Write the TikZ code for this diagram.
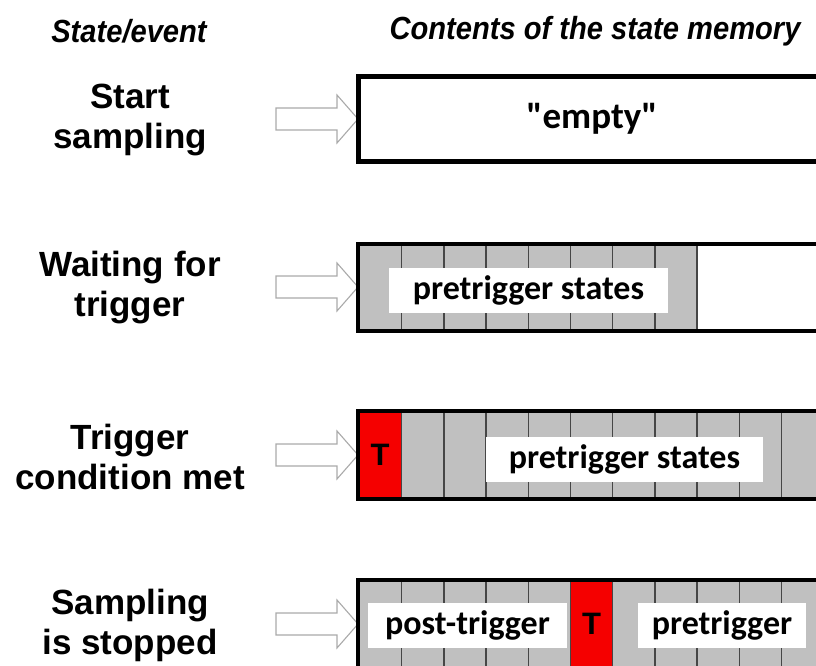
\documentclass[tikz,border=0pt]{standalone}
\usepackage{fontspec}
\setmainfont{Liberation Sans}
\newfontfamily\cellfont{Carlito}
\usetikzlibrary{calc}

\definecolor{cellgray}{RGB}{192,192,192}
\definecolor{trigred}{RGB}{245,0,0}
\definecolor{arrowgray}{RGB}{170,170,170}
\definecolor{celledge}{RGB}{70,70,70}

\begin{document}
\begin{tikzpicture}[x=1pt,y=-1pt,
  evtext/.style={font=\fontsize{35}{40}\selectfont\bfseries, align=center},
  header/.style={font=\fontsize{32}{36}\selectfont\bfseries\itshape},
  memlabel/.style={fill=white, font=\cellfont\fontsize{34}{38}\selectfont\bfseries,
    inner sep=0pt, minimum height=45pt},
  trig/.style={font=\fontsize{31}{34}\selectfont\bfseries},
  frame/.style={line width=4pt, draw=black},
  cellline/.style={draw=celledge, line width=1.3pt},
  blockarrow/.style={draw=arrowgray, line width=1.1pt, fill=white, line join=miter}
]
\useasboundingbox (0,0) rectangle (816,666);
\clip (0,0) rectangle (816,666);

% column headers (slightly condensed)
\node[header] (h1) at (129,31) {\scalebox{0.91}[1]{State/event}};
\node[header] (h2) at (595,31) {\scalebox{0.91}[1]{Contents of the state memory}};

% event texts
\node[evtext] (e1) at (130,120) {Start\\sampling};
\node[evtext] (e2) at (130,288) {Waiting for\\trigger};
\node[evtext] (e3) at (130,457) {Trigger\\condition met};
\node[evtext] (e4) at (130,625) {Sampling\\is stopped};

% hollow block arrows pointing at the memory rows
\foreach \yc in {119,287,455,624}{
  \draw[blockarrow] (276,\yc-11) -- (337,\yc-11) -- (337,\yc-24) -- (358,\yc)
    -- (337,\yc+24) -- (337,\yc+11) -- (276,\yc+11) -- cycle;
}

% ---- row 1: empty memory
\fill[white] (358,77) rectangle (830,161);
\node[font=\cellfont\fontsize{37}{40}\selectfont\bfseries] (m1) at (592,119) {"empty"};
\draw[frame, line width=5pt] (840,77) -- (358,77) -- (358,161) -- (840,161);

% ---- row 2: pretrigger states filling up
\fill[cellgray] (358,244) rectangle (697.1,331);
\foreach \i in {1,...,8}
  \draw[cellline] (359.5+42.2*\i,244) -- (359.5+42.2*\i,331);
\node[memlabel, minimum width=279pt] (m2) at (528.5,290) {pretrigger states};
\draw[frame] (840,244) -- (358,244) -- (358,331) -- (840,331);

% ---- row 3: trigger condition met
\fill[cellgray] (358,411) rectangle (830,499);
\fill[trigred] (358,411) rectangle (401.7,499);
\foreach \i in {1,...,10}
  \draw[cellline] (359.5+42.2*\i,411) -- (359.5+42.2*\i,499);
\node[trig] (t3) at (380,455) {T};
\node[memlabel, minimum width=277pt] (m3) at (624.5,459) {pretrigger states};
\draw[frame] (840,411) -- (358,411) -- (358,499) -- (840,499);

% ---- row 4: sampling stopped
\fill[cellgray] (358,580) rectangle (830,668);
\fill[trigred] (570.5,580) rectangle (612.7,668);
\foreach \i in {1,...,10}
  \draw[cellline] (359.5+42.2*\i,580) -- (359.5+42.2*\i,668);
\node[trig] (t4) at (591.6,624) {T};
\node[memlabel, minimum width=199pt] (m4a) at (467.5,625) {post-trigger};
\node[memlabel, minimum width=168pt] (m4b) at (722,625) {pretrigger};
\draw[frame] (840,580) -- (358,580) -- (358,668) -- (840,668);
\end{tikzpicture}
\end{document}
